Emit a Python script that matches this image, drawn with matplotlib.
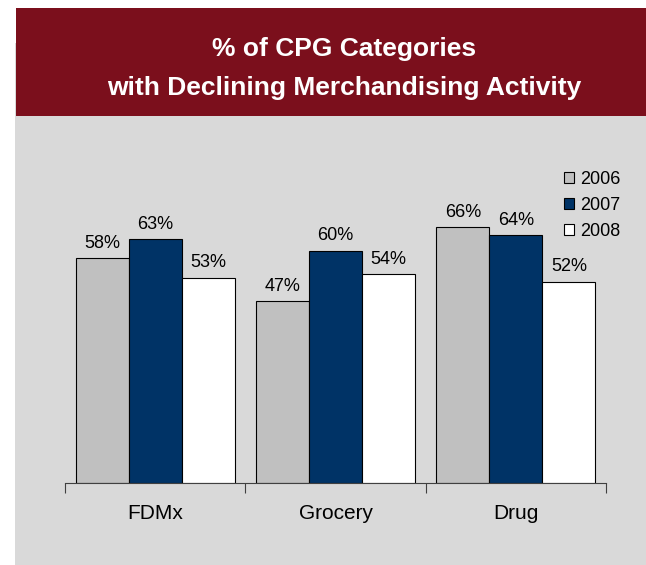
import numpy as np
import matplotlib.pyplot as plt
from matplotlib.patches import Rectangle

plt.rcParams['font.family'] = ['Liberation Sans', 'DejaVu Sans']

# Chart data
categories = ['FDMx', 'Grocery', 'Drug']
years = ['2006', '2007', '2008']
values_2006 = [58, 47, 66]
values_2007 = [63, 60, 64]
values_2008 = [53, 54, 52]
series = [values_2006, values_2007, values_2008]
colors = ['#C0C0C0', '#003366', '#FFFFFF']

W, H = 646, 565
fig = plt.figure(figsize=(W / 100, H / 100), dpi=100)
fig.patch.set_facecolor('white')

# background panel and title banner (pixel coords converted to figure fractions)
def px_rect(x0, y0, x1, y1, color):
    fig.patches.append(Rectangle((x0 / W, 1 - y1 / H), (x1 - x0) / W, (y1 - y0) / H,
                                 transform=fig.transFigure, facecolor=color,
                                 edgecolor='none', zorder=-5))

px_rect(15, 43, 646, 565, '#D9D9D9')
px_rect(16, 8, 646, 116, '#7B0F1C')
fig.text(344 / W, 1 - 49 / H, '% of CPG Categories', color='white', fontsize=19,
         fontweight='bold', ha='center', va='center')
fig.text(344 / W, 1 - 88 / H, 'with Declining Merchandising Activity', color='white',
         fontsize=19, fontweight='bold', ha='center', va='center')

# axes: baseline at y=483, x from 65 to 606
ax_left, ax_right, ax_bottom, ax_top = 65, 606, 483, 173
ax = fig.add_axes([ax_left / W, 1 - ax_bottom / H, (ax_right - ax_left) / W,
                   (ax_bottom - ax_top) / H])
ax.set_facecolor('none')
ax.set_xlim(-0.5, 2.5)
ax.set_ylim(0, 80)

x = np.arange(len(categories))
width = 0.294
for i, (vals, col, yr) in enumerate(zip(series, colors, years)):
    pos = x + (i - 1) * width
    ax.bar(pos, vals, width, color=col, edgecolor='black', linewidth=0.8, label=yr)
    for p, v in zip(pos, vals):
        ax.text(p, v + 1.6, f'{v}%', ha='center', va='bottom', fontsize=13)

for side in ['top', 'right', 'left']:
    ax.spines[side].set_visible(False)
ax.spines['bottom'].set_color('#404040')
ax.spines['bottom'].set_linewidth(0.8)
ax.set_yticks([])
ax.set_xticks([-0.5, 0.5, 1.5, 2.5])
ax.set_xticklabels([])
ax.tick_params(axis='x', direction='out', length=7, width=0.8, color='#404040')
ax.set_xticks(x, minor=True)
ax.set_xticklabels(categories, minor=True, fontsize=15)
ax.tick_params(axis='x', which='minor', length=0, pad=15)

leg = ax.legend(loc='upper left',
                bbox_to_anchor=((557 - ax_left) / (ax_right - ax_left), (ax_bottom - 164) / (ax_bottom - ax_top)),
                frameon=False, fontsize=13, handlelength=0.55, handleheight=0.55,
                handletextpad=0.35, labelspacing=0.5, borderaxespad=0)

fig.savefig('out.png', dpi=100)
